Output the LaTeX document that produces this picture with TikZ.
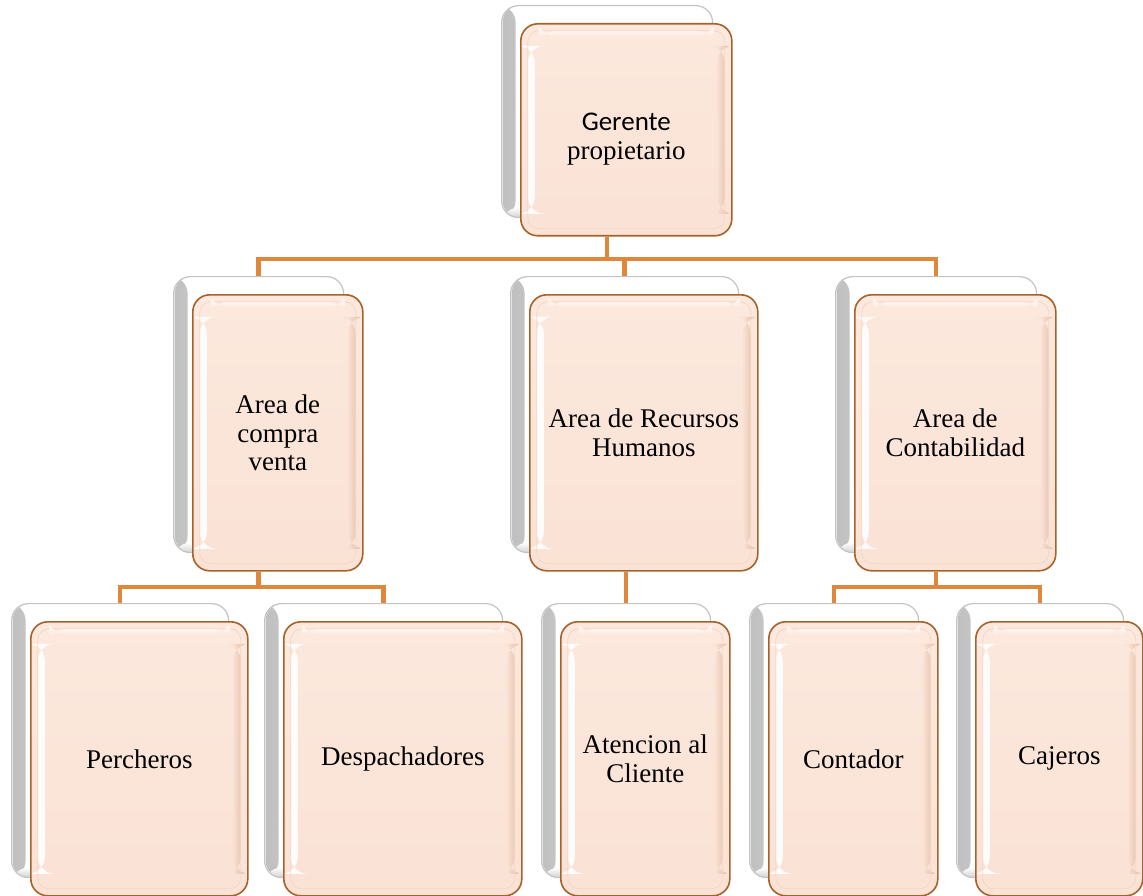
\documentclass[tikz,border=0pt]{standalone}
\usepackage{fontspec}
\setmainfont{Liberation Serif}
\newfontfamily\calib{Carlito}
\usetikzlibrary{backgrounds}

\definecolor{linkc}{HTML}{DF873B}
\definecolor{peach}{HTML}{FAE2D5}
\definecolor{peachtop}{HTML}{FCE8DD}
\definecolor{rim}{HTML}{A5622B}
\definecolor{shell}{HTML}{C4C4C4}

\tikzset{
  frontbox/.style={draw=rim, line width=1.6pt, rounded corners=17pt,
    top color=peachtop, bottom color=peach,
    anchor=north west, inner sep=0pt, align=center,
    font=\fontsize{27}{28.5}\selectfont,
    path picture={
      \shade[left color=white, right color=peachtop, opacity=.95]
        ([xshift=7pt,yshift=-22pt]path picture bounding box.north west) rectangle
        ([xshift=14pt,yshift=22pt]path picture bounding box.south west);
      \shade[left color=peach, right color=rim!25!peach, opacity=.8]
        ([xshift=-15pt,yshift=-22pt]path picture bounding box.north east) rectangle
        ([xshift=-7pt,yshift=22pt]path picture bounding box.south east);
      \draw[rim!8!peach, line width=.8pt, rounded corners=11pt]
        ([shift={(7pt,-7pt)}]path picture bounding box.north west) rectangle
        ([shift={(-7pt,7pt)}]path picture bounding box.south east);
      \shade[top color=white, bottom color=peachtop, opacity=.6]
        ([shift={(18pt,-7pt)}]path picture bounding box.north west) rectangle
        ([shift={(-18pt,-13pt)}]path picture bounding box.north east);
    }},
  backbox/.style={draw=shell, line width=1.2pt, rounded corners=17pt, fill=white,
    anchor=north west, inner sep=0pt,
    path picture={
      \shade[left color=black!25, right color=white]
        ([xshift=1pt]path picture bounding box.north west) rectangle
        ([xshift=14pt]path picture bounding box.south west);
      \shade[top color=white, bottom color=black!18]
        ([yshift=10pt]path picture bounding box.south west) rectangle
        (path picture bounding box.south east);
    }},
  link/.style={draw=linkc, line width=4.5pt}
}

% one chart entry: a white card behind an orange card
% #1 name, (#2,#3)-(#4,#5) corners of the orange card, #6 label
\newcommand\orgpair[6]{%
  \node[backbox, minimum width={#4-#2}, minimum height={#5-#3}]
    (#1B) at ({#2-19},{#3-18}) {};
  \node[frontbox, minimum width={#4-#2}, minimum height={#5-#3}]
    (#1) at (#2,#3) {#6};}

\begin{document}
\begin{tikzpicture}[x=1pt, y=-1pt]
  \useasboundingbox (0,0) rectangle (1143,896);

  % top level (first line given extra height so the pair sits a little low)
  \orgpair{gerente}{520}{23}{731}{235}{\rule{0pt}{36pt}{\calib Gerente}\\[0.5pt]propietario}

  % areas
  \orgpair{compra}{192}{294}{362}{570}{Area de\\compra\\venta}
  \orgpair{rrhh}{529}{294}{757}{570}{Area de Recursos\\Humanos}
  \orgpair{conta}{854}{294}{1055}{570}{Area de\\Contabilidad}

  % staff
  \orgpair{perch}{30}{621}{247}{895}{Percheros}
  \orgpair{desp}{283}{621}{521}{895}{Despachadores}
  \orgpair{aten}{560}{621}{729}{895}{Atencion al\\Cliente}
  \orgpair{cont}{768}{621}{937}{895}{Contador}
  \orgpair{caj}{975}{621}{1142}{895}{Cajeros}

  % rails of the two connector buses
  \coordinate (busA) at (0,259);
  \coordinate (busB) at (0,587);

  \begin{pgfonlayer}{background}
    \draw[link] (gerenteB.south |- gerente.south) -- (gerenteB.south |- busA)
      -| (compraB.north);
    \draw[link] (gerenteB.south |- busA) -| (rrhhB.north);
    \draw[link] (gerenteB.south |- busA) -| (contaB.north);

    \draw[link] (compraB.south |- compra.south) -- (compraB.south |- busB)
      -| (perchB.north);
    \draw[link] (compraB.south |- busB) -| (despB.north);

    \draw[link] (atenB.north |- rrhh.south) -- (atenB.north);

    \draw[link] (contaB.south |- conta.south) -- (contaB.south |- busB)
      -| (contB.north);
    \draw[link] (contaB.south |- busB) -| (cajB.north);
  \end{pgfonlayer}
\end{tikzpicture}
\end{document}
